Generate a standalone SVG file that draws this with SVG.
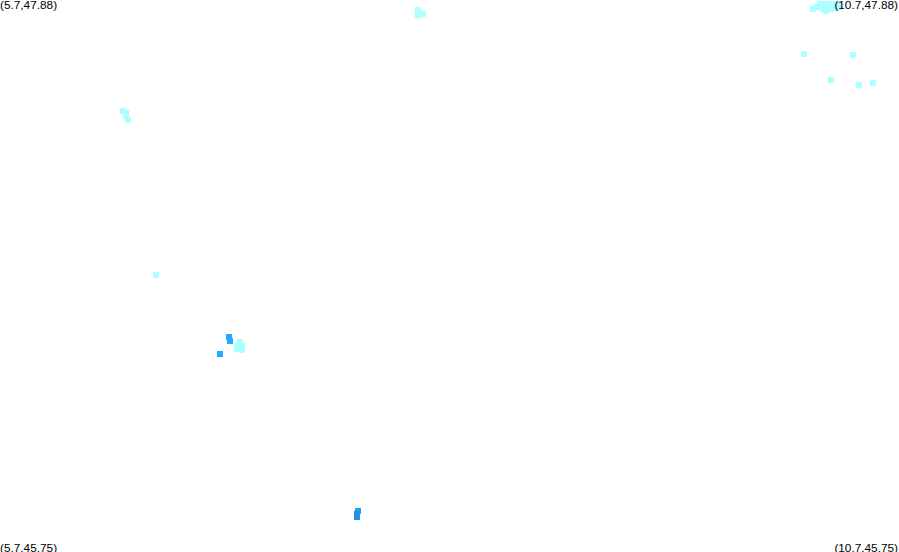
<svg xmlns="http://www.w3.org/2000/svg" width="899" height="552" viewBox="0 0 899 552">
<style>
text{font-family:"Liberation Sans",Arial,Helvetica,sans-serif;font-size:11.8px;fill:#000}
.e{text-anchor:end}
.c rect{width:6px;height:6px;fill:#aaffff}
.b rect{width:6px;height:6px;fill:#22aaff}
.d rect{width:6px;height:6px;fill:#2090e8}
</style>
<rect width="899" height="552" fill="#fff"/>
<g class="c">
<rect x="415" y="7"/><rect x="415" y="12"/><rect x="420" y="11"/>
<rect x="120" y="108"/><rect x="123" y="110"/><rect x="123" y="113"/><rect x="125" y="117"/>
<rect x="153" y="272"/>
<rect x="237" y="339"/><rect x="234" y="343"/><rect x="239" y="343"/><rect x="234" y="346"/><rect x="239" y="347"/>
<rect x="810" y="6"/><rect x="814" y="4"/><rect x="817" y="1"/><rect x="822" y="1"/><rect x="827" y="1"/><rect x="831" y="1"/><rect x="820" y="6"/><rect x="823" y="8"/><rect x="827" y="6"/><rect x="832" y="5"/><rect x="835" y="1"/><rect x="836" y="4"/>
<rect x="801" y="51"/><rect x="850" y="52"/><rect x="828" y="77"/><rect x="856" y="82"/><rect x="870" y="80"/>
</g>
<g class="b">
<rect x="226" y="334"/><rect x="227" y="338"/><rect x="217" y="351"/>
</g>
<g class="d">
<rect x="355" y="508" style="fill:#22a0f5"/><rect x="354" y="511"/><rect x="354" y="514"/>
</g>
<text x="0" y="9">(5.7,47.88)</text>
<text class="e" x="898" y="9">(10.7,47.88)</text>
<text x="0" y="552">(5.7,45.75)</text>
<text class="e" x="898" y="552">(10.7,45.75)</text>
</svg>
